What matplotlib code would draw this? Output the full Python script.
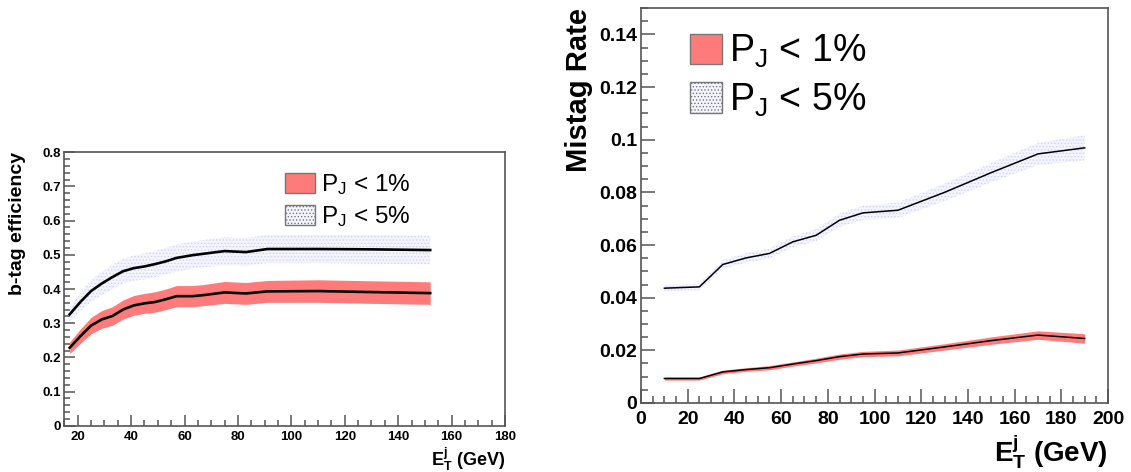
import numpy as np
import matplotlib
matplotlib.use("Agg")
import matplotlib.pyplot as plt
from matplotlib.patches import Patch
from matplotlib.ticker import MultipleLocator, FuncFormatter

plt.rcParams["font.family"] = ["Liberation Sans", "DejaVu Sans"]
plt.rcParams["mathtext.fontset"] = "custom"
plt.rcParams["mathtext.rm"] = "Liberation Sans"
plt.rcParams["mathtext.bf"] = "Liberation Sans:bold"
plt.rcParams["mathtext.it"] = "Liberation Sans:italic"
plt.rcParams["hatch.linewidth"] = 0.6

# b-tag efficiency vs jet E_T (left panel)
eff_et = [17, 21, 25, 29, 33, 37, 41, 45, 49, 53, 57, 63, 67, 75, 83, 91, 110, 130, 152]
eff_pj1 = [0.228, 0.262, 0.293, 0.311, 0.321, 0.340, 0.352, 0.358, 0.362, 0.370,
           0.379, 0.379, 0.382, 0.390, 0.387, 0.393, 0.394, 0.391, 0.388]
eff_pj1_err = [0.017, 0.021, 0.024, 0.026, 0.027, 0.028, 0.029, 0.029, 0.030, 0.030,
               0.031, 0.031, 0.031, 0.032, 0.032, 0.032, 0.033, 0.033, 0.033]
eff_pj5 = [0.326, 0.362, 0.394, 0.416, 0.435, 0.452, 0.461, 0.466, 0.473, 0.481,
           0.491, 0.499, 0.503, 0.511, 0.508, 0.517, 0.517, 0.516, 0.514]
eff_pj5_err = [0.020, 0.027, 0.032, 0.034, 0.035, 0.036, 0.037, 0.038, 0.039, 0.039,
               0.040, 0.040, 0.040, 0.041, 0.041, 0.041, 0.041, 0.042, 0.042]

# mistag rate vs jet E_T (right panel)
mis_et = [10, 25, 35, 45, 55, 65, 75, 85, 95, 110, 130, 150, 170, 190]
mis_pj1 = [0.0093, 0.0093, 0.0118, 0.0127, 0.0134, 0.0148, 0.0161, 0.0176, 0.0186,
           0.0190, 0.0213, 0.0237, 0.0258, 0.0245]
mis_pj1_err = [0.0006, 0.0006, 0.0007, 0.0007, 0.0008, 0.0008, 0.0009, 0.0010, 0.0010,
               0.0011, 0.0012, 0.0014, 0.0016, 0.0018]
mis_pj5 = [0.0436, 0.0441, 0.0526, 0.0551, 0.0568, 0.0612, 0.0637, 0.0694, 0.0722,
           0.0732, 0.0800, 0.0875, 0.0946, 0.0969]
mis_pj5_err = [0.0012, 0.0012, 0.0016, 0.0018, 0.0019, 0.0021, 0.0023, 0.0025, 0.0027,
               0.0029, 0.0033, 0.0037, 0.0042, 0.0048]

labels = [r"P$_{\mathregular{J}}$ < 1%", r"P$_{\mathregular{J}}$ < 5%"]
red = "#ff7b7b"
lav_face = "#f4f4fe"
lav_dots = "#d2d2f6"
frame = "#555555"


def band(ax, x, y, err, pj1, lw):
    x = np.array(x)
    y = np.array(y)
    err = np.array(err)
    if pj1:
        ax.fill_between(x, y - err, y + err, color=red, linewidth=0, zorder=1)
    else:
        ax.fill_between(x, y - err, y + err, facecolor=lav_face, edgecolor=lav_dots,
                        hatch=".....", linewidth=0, zorder=1)
    ax.plot(x, y, color="black", lw=lw, zorder=3)


def style(ax, fs, major_len, minor_len, xpad, ypad):
    for s in ax.spines.values():
        s.set_color(frame)
        s.set_linewidth(1.2)
    ax.tick_params(which="both", direction="in", top=False, right=False, color=frame,
                   width=1.1)
    ax.tick_params(which="major", length=major_len)
    ax.tick_params(which="minor", length=minor_len)
    ax.tick_params(axis="x", pad=xpad)
    ax.tick_params(axis="y", pad=ypad)
    ax.yaxis.set_major_formatter(FuncFormatter(lambda v, p: "%g" % round(v, 4)))
    for t in ax.get_xticklabels() + ax.get_yticklabels():
        t.set_fontweight("bold")
        t.set_fontsize(fs)


def legend_handles():
    return [Patch(facecolor=red, edgecolor="#777777", linewidth=1.0),
            Patch(facecolor=lav_face, edgecolor="#777777", hatch=".....", linewidth=1.0)]


fig = plt.figure(figsize=(11.31, 4.72), dpi=100)

# left: b-tag efficiency
ax1 = fig.add_axes([0.0569, 0.0981, 0.3896, 0.5792])
band(ax1, eff_et, eff_pj5, eff_pj5_err, False, 1.9)
band(ax1, eff_et, eff_pj1, eff_pj1_err, True, 1.9)
ax1.set_xlim(15, 180)
ax1.set_ylim(0, 0.8)
ax1.xaxis.set_major_locator(MultipleLocator(20))
ax1.xaxis.set_minor_locator(MultipleLocator(5))
ax1.yaxis.set_major_locator(MultipleLocator(0.1))
ax1.yaxis.set_minor_locator(MultipleLocator(0.02))
ax1.set_xticks(np.arange(20, 181, 20))
style(ax1, 9.5, 8, 4, 4, 2.5)
ax1.set_ylabel("b-tag efficiency", fontsize=14, fontweight="bold", loc="top", labelpad=12)
ax1.set_xlabel(r"$\mathbf{E_T^j}$ (GeV)", fontsize=13, fontweight="bold", loc="right",
               labelpad=2)
ax1.legend(legend_handles(), labels, loc="upper left", bbox_to_anchor=(0.50, 0.927),
           frameon=False, fontsize=17.5, handlelength=1.25, handleheight=0.9,
           handletextpad=0.25, labelspacing=0.3, borderaxespad=0, borderpad=0)

# right: mistag rate
ax2 = fig.add_axes([0.5668, 0.1462, 0.4129, 0.8368])
band(ax2, mis_et, mis_pj5, mis_pj5_err, False, 1.1)
band(ax2, mis_et, mis_pj1, mis_pj1_err, True, 1.1)
ax2.set_xlim(0, 200)
ax2.set_ylim(0, 0.15)
ax2.xaxis.set_major_locator(MultipleLocator(20))
ax2.xaxis.set_minor_locator(MultipleLocator(5))
ax2.yaxis.set_major_locator(MultipleLocator(0.02))
ax2.yaxis.set_minor_locator(MultipleLocator(0.005))
style(ax2, 14, 10, 5, 6, 3)
ax2.set_ylabel("Mistag Rate", fontsize=21, fontweight="bold", loc="top", labelpad=4)
ax2.set_xlabel(r"$\mathbf{E_T^j}$ (GeV)", fontsize=20, fontweight="bold", loc="right",
               labelpad=3)
ax2.legend(legend_handles(), labels, loc="upper left", bbox_to_anchor=(0.105, 0.937),
           frameon=False, fontsize=27, handlelength=0.85, handleheight=0.87,
           handletextpad=0.2, labelspacing=0.3, borderaxespad=0, borderpad=0)

fig.savefig("out.png", dpi=100)
